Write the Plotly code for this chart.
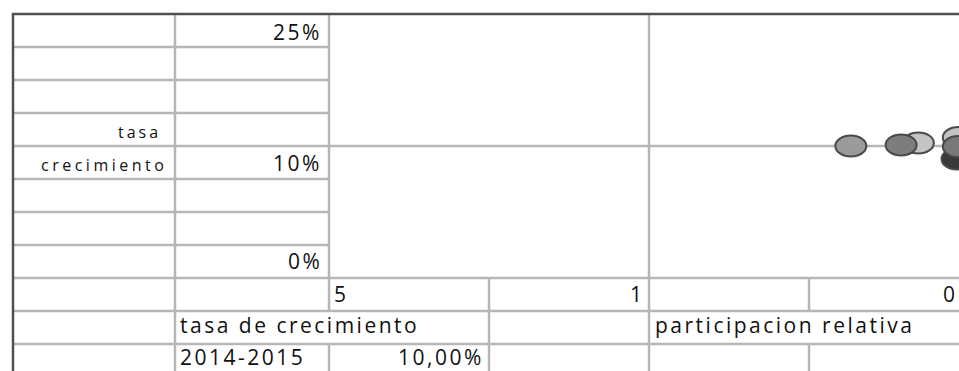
import plotly.graph_objects as go

# ---------------- data ----------------
products = ["P1", "P3", "P2", "P4", "P6", "P5"]
participacion_relativa = [0.234, 0.144, 0.163, 0.108, 0.109, 0.108]
tasa_crecimiento = [0.100, 0.1023, 0.1008, 0.1064, 0.0902, 0.0996]
bubble_colors = ["#9b9b9b", "#c4c4c4", "#7d7d7d", "#c2c2c2", "#393939", "#787878"]

y_tick_labels = ["25%", "10%", "0%"]
x_tick_labels = ["5", "1", "0"]
row_labels = ["tasa", "crecimiento"]
table_labels = ["tasa de crecimiento", "participacion relativa"]
period_label = "2014-2015"
period_value = "10,00%"

x_divider = 1.0      # participacion relativa = 1
y_divider = 0.10     # tasa de crecimiento = 10%

# ---------------- layout helpers ----------------
W, H = 959, 371
def fx(px):
    return px / W
def fy(py):
    return 1 - py / H

GRID = "#b6b6b6"
DARK = "#505050"
FONT = "Open Sans"

# elliptical bubble outline (pixel offsets around the data anchor)
RX, RY, K = 15.5, 10.5, 0.5523
ELLIPSE = (f"M {RX},0 C {RX},{K*RY:.2f} {K*RX:.2f},{RY} 0,{RY} "
           f"C {-K*RX:.2f},{RY} {-RX},{K*RY:.2f} {-RX},0 "
           f"C {-RX},{-K*RY:.2f} {-K*RX:.2f},{-RY} 0,{-RY} "
           f"C {K*RX:.2f},{-RY} {RX},{-K*RY:.2f} {RX},0 Z")

fig = go.Figure()
fig.add_trace(go.Scatter(
    x=participacion_relativa, y=tasa_crecimiento, mode="markers",
    text=products, hoverinfo="text+x+y",
    marker=dict(size=22, color="rgba(0,0,0,0)"), showlegend=False,
))

shapes = []
def hline(py, x0, x1, color=GRID, w=2.5):
    shapes.append(dict(type="line", xref="paper", yref="paper",
                       x0=fx(x0), x1=fx(x1), y0=fy(py), y1=fy(py),
                       line=dict(color=color, width=w)))
def vline(px, y0, y1, color=GRID, w=2.5):
    shapes.append(dict(type="line", xref="paper", yref="paper",
                       x0=fx(px), x1=fx(px), y0=fy(y0), y1=fy(y1),
                       line=dict(color=color, width=w)))

# spreadsheet grid
for py in [47, 80, 113, 146, 179, 212, 245]:
    hline(py, 13, 329)
for py in [278, 311, 344]:
    hline(py, 13, W + 5)
vline(175, 14, H + 5)
vline(329, 14, 311)
vline(329, 344, H + 5)
vline(489, 278, H + 5)
vline(649, 278, H + 5)
vline(809, 278, 311)
vline(809, 344, H + 5)

# chart dividers (data coordinates)
shapes.append(dict(type="line", xref="x", yref="y", x0=x_divider, x1=x_divider,
                   y0=0, y1=0.2, line=dict(color=GRID, width=2.5)))
shapes.append(dict(type="line", xref="x domain", yref="y", x0=0, x1=1,
                   y0=y_divider, y1=y_divider, line=dict(color=GRID, width=2.5)))

# bubbles (ellipses anchored on data values)
for xv, yv, c in zip(participacion_relativa, tasa_crecimiento, bubble_colors):
    shapes.append(dict(type="path", xref="x", yref="y",
                       xsizemode="pixel", ysizemode="pixel",
                       xanchor=xv, yanchor=yv, path=ELLIPSE,
                       fillcolor=c, line=dict(color="#4a4a4a", width=2)))

# dark outer borders
hline(14, 12, W + 5, color=DARK, w=2.5)
vline(13, 13, H + 5, color=DARK, w=2.5)

annotations = []
def txt(s, px, py, anchor, size=21, ls=2.5):
    annotations.append(dict(
        text=f'<span style="letter-spacing:{ls}px">{s}</span>',
        xref="paper", yref="paper", x=fx(px), y=fy(py),
        xanchor=anchor, yanchor="middle", showarrow=False,
        font=dict(family=FONT, size=size, color="#111111"),
    ))

# y "ticks" (cell texts)
for s, py in zip(y_tick_labels, [32, 163, 261]):
    txt(s, 324, py, "right")
# x "ticks"
txt(x_tick_labels[0], 332, 294, "left")
txt(x_tick_labels[1], 647, 294, "right")
txt(x_tick_labels[2], 957, 294, "right", ls=0)
# row labels
txt(row_labels[0], 163, 132, "right", size=16, ls=3.0)
txt(row_labels[1], 169, 165, "right", size=16, ls=3.5)
# table labels
txt(table_labels[0], 178, 325, "left")
txt(table_labels[1], 653, 325, "left")
txt(period_label, 178, 357, "left")
txt(period_value, 486, 357, "right")

fig.update_layout(
    width=W, height=H, autosize=False,
    margin=dict(l=0, r=0, t=0, b=0, pad=0),
    paper_bgcolor="white", plot_bgcolor="white",
    xaxis=dict(type="log", range=[1, -0.96875], domain=[fx(329), 1],
               visible=False, showgrid=False, zeroline=False),
    yaxis=dict(range=[0, 0.2], domain=[fy(278), fy(14)],
               visible=False, showgrid=False, zeroline=False),
    shapes=shapes, annotations=annotations, showlegend=False,
)

fig.write_html(
    "out.html",
    config={"displayModeBar": False},
    post_script="document.body.style.margin='0px';document.body.style.overflow='hidden';",
)
